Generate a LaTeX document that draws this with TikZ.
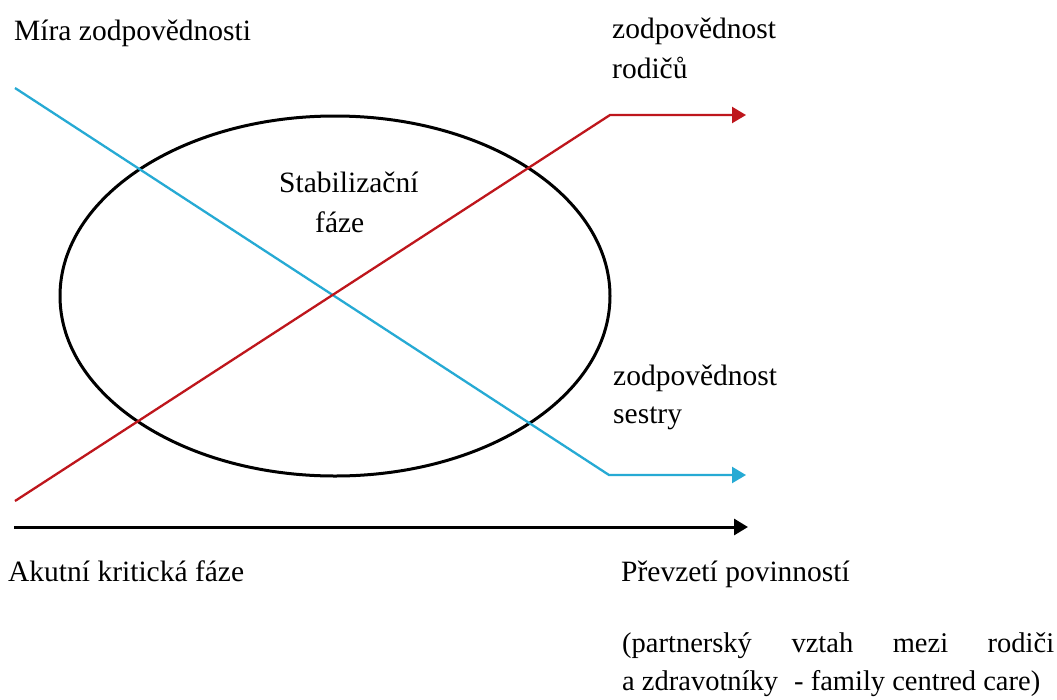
\documentclass[tikz,border=0pt]{standalone}
\usepackage{fontspec}
\setmainfont{Liberation Serif}
\usetikzlibrary{arrows.meta,shapes.geometric}
\definecolor{nurseblue}{RGB}{38,170,212}
\definecolor{parentred}{RGB}{190,22,28}
\tikzset{
  lbl/.style={anchor=base west,inner sep=0pt,font=\fontsize{29.5}{35}\selectfont},
  colline/.style={line width=2.3pt,line join=miter},
  tip/.style={-{Triangle[length=14pt,width=16pt]}},
  phase/.style={draw,ellipse,line width=3pt,minimum width=550pt,minimum height=360pt,inner sep=0pt}
}
\begin{document}
\begin{tikzpicture}[x=1pt,y=-1pt]
\useasboundingbox (0,0) rectangle (1057,699);
\fill[white] (0,0) rectangle (1057,699);
% ellipse
\node[phase] (ell) at (335,296) {};
% coordinates
\coordinate (bS) at (15,88);
\coordinate (bK) at (609,475);
\coordinate (bE) at (746,475);
\coordinate (rS) at (15,501);
\coordinate (rK) at (610,115);
\coordinate (rE) at (746,115);
\coordinate (aS) at (14,527);
\coordinate (aE) at (748,527);
% lines
\draw[colline,nurseblue,tip] (bS) -- (bK) -- (bE);
\draw[colline,parentred,tip] (rS) -- (rK) -- (rE);
\draw[line width=3pt,tip] (aS) -- (aE);
% labels
\node[lbl] (t1) at (14,40) {Míra zodpovědnosti};
\node[lbl] (t2) at (612,38) {zodpovědnost};
\node[lbl] (t3) at (612,78) {rodičů};
\node[lbl] (t4) at (279,192) {Stabilizační};
\node[lbl] (t5) at (315,232) {fáze};
\node[lbl] (t6) at (613,385) {zodpovědnost};
\node[lbl] (t7) at (613,423) {sestry};
\node[lbl] (t8) at (8,581) {Akutní kritická fáze};
\node[lbl] (t9) at (621,581) {Převzetí povinností};
\node[lbl,font=\fontsize{28.5}{34}\selectfont] (t10) at (622,652) {\makebox[432pt][s]{(partnerský\hfill vztah\hfill mezi\hfill rodiči}};
\node[lbl,font=\fontsize{28.5}{34}\selectfont] (t11) at (622,690) {\makebox[418pt][s]{a zdravotníky\hfill - family centred care)}};
\end{tikzpicture}
\end{document}
